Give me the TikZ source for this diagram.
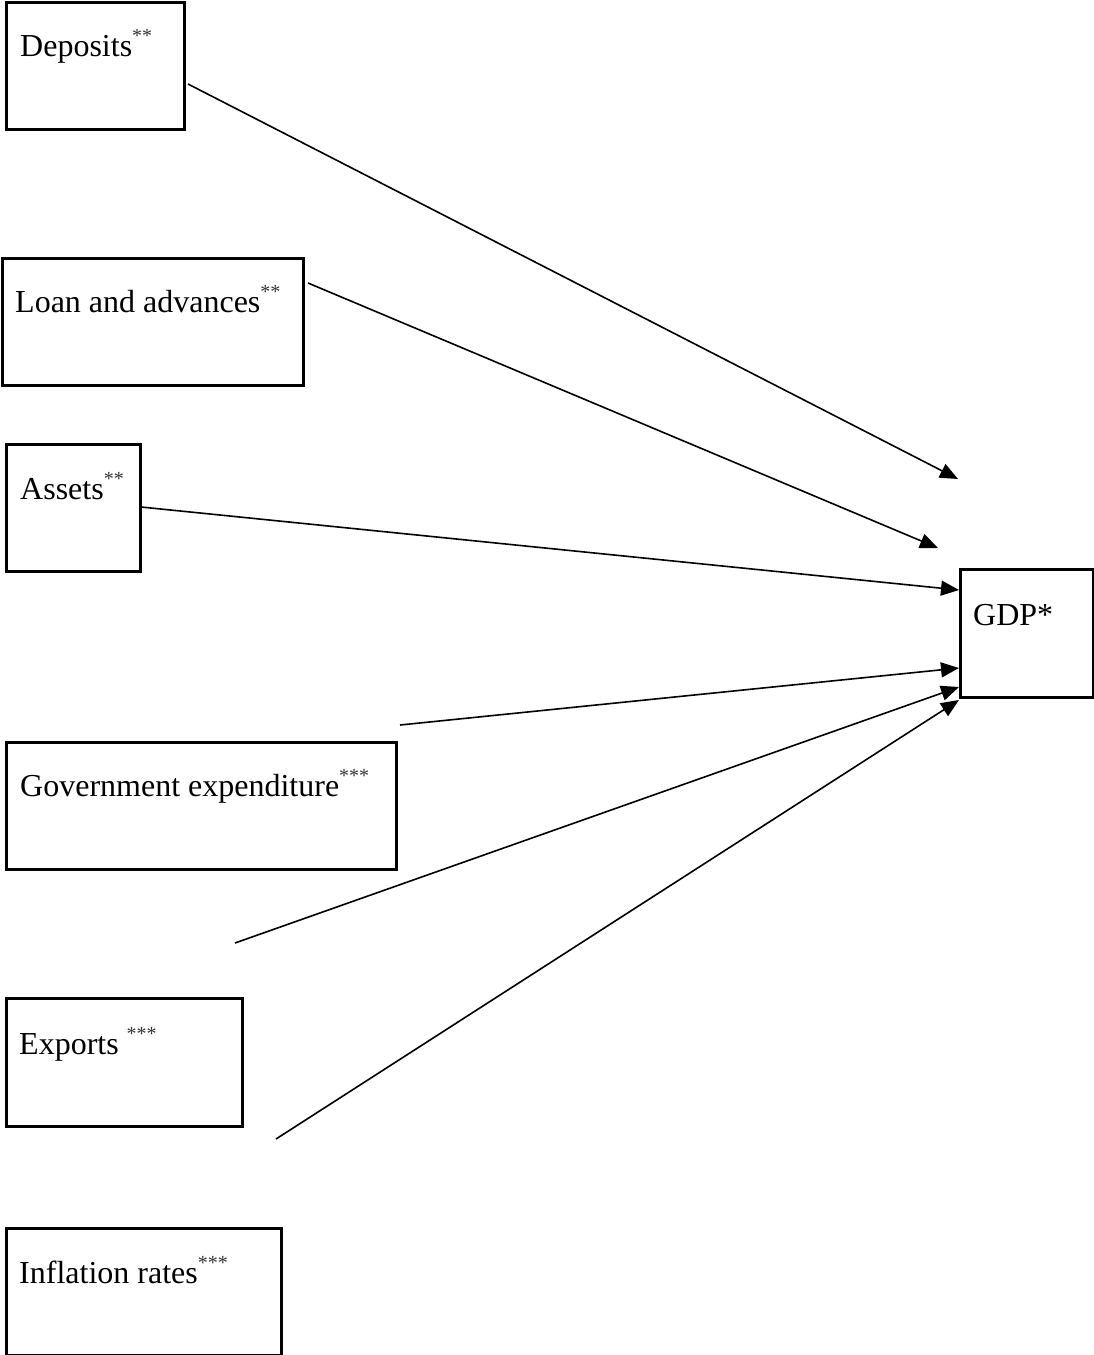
\documentclass[tikz,border=0pt]{standalone}
\usepackage{fontspec}
\setmainfont{Liberation Serif}
\usetikzlibrary{arrows.meta}
\begin{document}
\begin{tikzpicture}[x=1pt,y=-1pt,
  box/.style={draw,line width=2.8pt,inner sep=0pt,anchor=north west},
  lbl/.style={anchor=base west,inner sep=0pt,font=\fontsize{32}{38}\selectfont},
  arr/.style={line width=1.6pt,-{Triangle[length=18pt,width=15pt]}}]
\newcommand{\stars}[1]{\raisebox{14pt}{\fontsize{20}{20}\selectfont\color{black!80}#1}}
\useasboundingbox (0,0) rectangle (1093,1355);
% boxes
\node[box,minimum width=178pt,minimum height=127pt] (dep) at (5,1) {};
\node[box,minimum width=301pt,minimum height=127pt] (loan) at (1,257) {};
\node[box,minimum width=134pt,minimum height=127pt] (ass) at (5,443) {};
\node[box,minimum width=390pt,minimum height=127pt] (gov) at (5,741) {};
\node[box,minimum width=236pt,minimum height=128pt] (exp) at (5,997) {};
\node[box,minimum width=275pt,minimum height=127pt] (inf) at (5,1227) {};
\node[box,minimum width=133pt,minimum height=128pt] (gdp) at (959,568) {};
% labels
\node[lbl] (tdep) at (20,56) {Deposits\stars{**}};
\node[lbl] (tloan) at (15,312) {Loan and advances\stars{**}};
\node[lbl] (tass) at (20,499) {Assets\stars{**}};
\node[lbl] (tgov) at (20,796) {Government expenditure\stars{***}};
\node[lbl] (texp) at (19,1054) {Exports \stars{***}};
\node[lbl] (tinf) at (19,1283) {Inflation rates\stars{***}};
\node[lbl] (tgdp) at (973,625) {GDP*};
% connector ends
\coordinate (s1) at (188,84);   \coordinate (e1) at (958,479);
\coordinate (s2) at (308,283);  \coordinate (e2) at (938,548);
\coordinate (s3) at (141,507);  \coordinate (e3) at (959,590);
\coordinate (s4) at (400,725);  \coordinate (e4) at (959,668);
\coordinate (s5) at (235,943);  \coordinate (e5) at (959,687);
\coordinate (s6) at (276,1139); \coordinate (e6) at (959,700);
\draw[arr] (s1) -- (e1);
\draw[arr] (s2) -- (e2);
\draw[arr] (s3) -- (e3);
\draw[arr] (s4) -- (e4);
\draw[arr] (s5) -- (e5);
\draw[arr] (s6) -- (e6);
\end{tikzpicture}
\end{document}
